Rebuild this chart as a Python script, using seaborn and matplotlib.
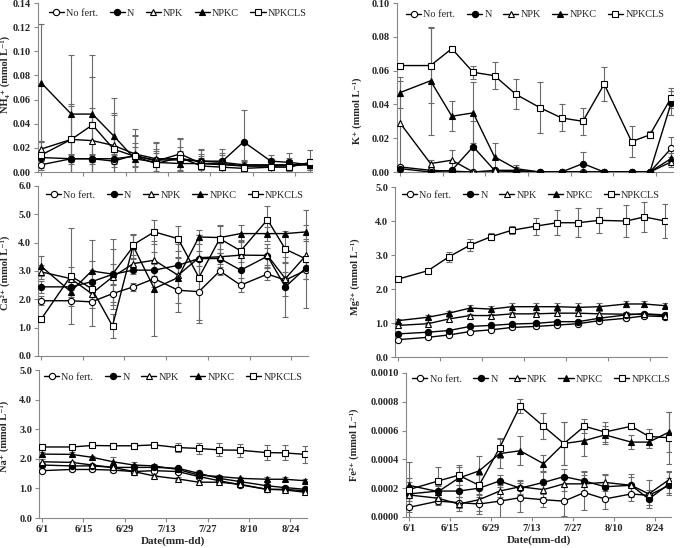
import matplotlib
matplotlib.use('Agg')
import matplotlib.pyplot as plt
from matplotlib.ticker import MultipleLocator, FormatStrFormatter
import seaborn as sns
import pandas as pd

# sampling days counted from 6/1
days = [0, 10, 17, 24, 31, 38, 46, 53, 60, 67, 76, 82, 89]
tick_days = [0, 14, 28, 42, 56, 70, 84]
tick_labels = ['6/1', '6/15', '6/29', '7/13', '7/27', '8/10', '8/24']
treatments = ['No fert.', 'N', 'NPK', 'NPKC', 'NPKCLS']

# NH4+
nh4_nofert = [0.006, 0.011, 0.011, 0.009, 0.014, 0.009, 0.015, 0.007, 0.006, 0.005, 0.005, 0.005, 0.007]
nh4_n = [0.012, 0.011, 0.011, 0.011, 0.013, 0.010, 0.010, 0.009, 0.009, 0.025, 0.009, 0.008, 0.006]
nh4_npk = [0.019, 0.027, 0.026, 0.022, 0.015, 0.011, 0.011, 0.009, 0.008, 0.006, 0.006, 0.006, 0.006]
nh4_npkc = [0.074, 0.048, 0.048, 0.030, 0.011, 0.008, 0.007, 0.007, 0.007, 0.005, 0.005, 0.006, 0.006]
nh4_npkcls = [0.014, 0.027, 0.039, 0.019, 0.013, 0.007, 0.012, 0.005, 0.004, 0.003, 0.004, 0.004, 0.008]
nh4_nofert_sd = [0.003, 0.004, 0.004, 0.005, 0.010, 0.008, 0.013, 0.005, 0.004, 0.003, 0.003, 0.004, 0.004]
nh4_n_sd = [0.003, 0.003, 0.003, 0.004, 0.008, 0.006, 0.006, 0.006, 0.005, 0.026, 0.005, 0.004, 0.003]
nh4_npk_sd = [0.006, 0.029, 0.027, 0.025, 0.016, 0.014, 0.010, 0.009, 0.008, 0.004, 0.004, 0.004, 0.004]
nh4_npkc_sd = [0.049, 0.049, 0.049, 0.031, 0.025, 0.016, 0.010, 0.012, 0.012, 0.004, 0.006, 0.010, 0.004]
nh4_npkcls_sd = [0.012, 0.028, 0.040, 0.030, 0.017, 0.012, 0.015, 0.008, 0.007, 0.004, 0.006, 0.006, 0.010]

# K+
k_nofert = [0.003, 0.001, 0.0005, 0.0, 0.0, 0.0, 0.0, 0.0, 0.0, 0.0, 0.0, 0.0, 0.014]
k_n = [0.002, 0.0, 0.001, 0.015, 0.001, 0.0, 0.0, 0.0, 0.005, 0.0, 0.0, 0.0, 0.041]
k_npk = [0.029, 0.005, 0.007, 0.0, 0.001, 0.001, 0.0, 0.0, 0.0, 0.0, 0.0, 0.0, 0.006]
k_npkc = [0.047, 0.054, 0.033, 0.035, 0.009, 0.002, 0.0, 0.0, 0.0, 0.0, 0.0, 0.0, 0.008]
k_npkcls = [0.063, 0.063, 0.073, 0.059, 0.057, 0.046, 0.038, 0.032, 0.030, 0.052, 0.018, 0.022, 0.044]
k_nofert_sd = [0.001, 0.001, 0.0, 0.0, 0.0, 0.0, 0.0, 0.0, 0.0, 0.0, 0.0, 0.0, 0.007]
k_n_sd = [0.001, 0.0, 0.001, 0.015, 0.001, 0.0, 0.0, 0.0, 0.007, 0.0, 0.0, 0.0, 0.007]
k_npk_sd = [0.025, 0.002, 0.006, 0.0, 0.001, 0.002, 0.0, 0.0, 0.0, 0.0, 0.0, 0.0, 0.003]
k_npkc_sd = [0.009, 0.032, 0.009, 0.018, 0.008, 0.002, 0.0, 0.0, 0.0, 0.0, 0.0, 0.0, 0.003]
k_npkcls_sd = [0.001, 0.022, 0.001, 0.004, 0.008, 0.009, 0.015, 0.008, 0.008, 0.010, 0.009, 0.002, 0.006]

# Ca2+
ca_nofert = [1.95, 1.95, 1.91, 2.20, 2.44, 2.73, 2.32, 2.27, 3.00, 2.50, 2.89, 2.68, 3.03]
ca_n = [2.44, 2.44, 2.62, 2.88, 3.03, 3.03, 3.20, 3.44, 3.44, 3.03, 3.52, 2.44, 3.12]
ca_npk = [2.97, 2.73, 2.20, 2.79, 3.26, 3.38, 2.85, 3.47, 3.50, 3.56, 3.55, 2.73, 3.56]
ca_npkc = [3.17, 2.27, 3.00, 2.89, 3.87, 2.38, 2.77, 4.20, 4.18, 4.32, 4.32, 4.32, 4.38]
ca_npkcls = [1.29, 2.82, 2.38, 1.06, 3.93, 4.38, 4.14, 2.77, 4.14, 3.71, 4.81, 3.77, 3.42]
ca_nofert_sd = [0.15, 0.20, 0.20, 0.30, 0.15, 0.30, 0.45, 1.10, 0.15, 0.25, 0.20, 0.30, 0.30]
ca_n_sd = [0.20, 0.35, 0.40, 0.35, 0.15, 0.20, 0.30, 0.25, 0.20, 0.50, 0.30, 1.05, 0.40]
ca_npk_sd = [0.25, 0.40, 1.15, 1.00, 0.20, 0.30, 0.60, 0.80, 0.50, 0.50, 0.40, 0.60, 0.50]
ca_npkc_sd = [0.35, 0.25, 1.08, 1.24, 0.45, 1.68, 1.20, 0.25, 0.40, 0.30, 0.25, 0.10, 0.25]
ca_npkcls_sd = [0.10, 1.70, 0.30, 0.42, 0.35, 0.42, 0.45, 1.50, 0.50, 0.40, 0.50, 0.50, 1.72]

# Mg2+
mg_nofert = [0.51, 0.58, 0.65, 0.75, 0.80, 0.87, 0.90, 0.94, 0.98, 1.07, 1.14, 1.21, 1.19]
mg_n = [0.68, 0.73, 0.78, 0.90, 0.93, 0.97, 0.99, 1.04, 1.04, 1.14, 1.24, 1.27, 1.24]
mg_npk = [0.93, 0.98, 1.12, 1.22, 1.22, 1.27, 1.27, 1.29, 1.29, 1.27, 1.26, 1.26, 1.22]
mg_npkc = [1.07, 1.17, 1.29, 1.44, 1.41, 1.48, 1.48, 1.48, 1.46, 1.48, 1.56, 1.56, 1.51]
mg_npkcls = [2.29, 2.54, 2.95, 3.29, 3.54, 3.73, 3.85, 3.95, 3.95, 4.02, 4.00, 4.12, 4.00]
mg_nofert_sd = [0.04, 0.04, 0.04, 0.04, 0.04, 0.04, 0.04, 0.04, 0.04, 0.04, 0.05, 0.05, 0.05]
mg_n_sd = [0.03, 0.04, 0.04, 0.04, 0.04, 0.04, 0.04, 0.05, 0.05, 0.06, 0.05, 0.05, 0.05]
mg_npk_sd = [0.05, 0.05, 0.05, 0.06, 0.06, 0.06, 0.06, 0.06, 0.07, 0.07, 0.07, 0.07, 0.07]
mg_npkc_sd = [0.06, 0.06, 0.07, 0.08, 0.08, 0.10, 0.10, 0.12, 0.12, 0.12, 0.08, 0.08, 0.08]
mg_npkcls_sd = [0.05, 0.05, 0.15, 0.18, 0.10, 0.12, 0.25, 0.37, 0.43, 0.36, 0.46, 0.45, 0.50]

# Na+
na_nofert = [1.60, 1.64, 1.64, 1.62, 1.57, 1.60, 1.57, 1.40, 1.26, 1.12, 0.97, 0.97, 0.92]
na_n = [1.79, 1.76, 1.76, 1.71, 1.71, 1.71, 1.68, 1.51, 1.34, 1.23, 1.09, 1.03, 0.97]
na_npk = [1.90, 1.88, 1.79, 1.71, 1.57, 1.42, 1.32, 1.21, 1.21, 1.14, 0.97, 0.95, 0.87]
na_npkc = [2.16, 2.15, 2.05, 1.90, 1.79, 1.76, 1.64, 1.45, 1.40, 1.34, 1.31, 1.31, 1.26]
na_npkcls = [2.40, 2.40, 2.45, 2.44, 2.44, 2.47, 2.38, 2.35, 2.30, 2.29, 2.21, 2.20, 2.15]
na_nofert_sd = [0.04, 0.05, 0.05, 0.05, 0.05, 0.04, 0.06, 0.05, 0.05, 0.05, 0.04, 0.04, 0.04]
na_n_sd = [0.06, 0.06, 0.06, 0.08, 0.07, 0.06, 0.06, 0.06, 0.06, 0.06, 0.06, 0.06, 0.05]
na_npk_sd = [0.08, 0.06, 0.05, 0.06, 0.06, 0.05, 0.05, 0.05, 0.05, 0.05, 0.05, 0.05, 0.05]
na_npkc_sd = [0.06, 0.07, 0.06, 0.15, 0.10, 0.06, 0.07, 0.06, 0.07, 0.06, 0.06, 0.06, 0.05]
na_npkcls_sd = [0.06, 0.06, 0.05, 0.08, 0.10, 0.06, 0.15, 0.20, 0.22, 0.22, 0.25, 0.25, 0.28]

# Fe2+
fe_nofert = [0.000067, 0.00011, 0.00010, 0.00009, 0.00011, 0.000134, 0.00012, 0.00011, 0.00017, 0.000125, 0.00016, 0.00015, 0.00022]
fe_n = [0.00016, 0.00018, 0.00018, 0.00020, 0.00025, 0.00020, 0.00024, 0.00028, 0.00025, 0.00021, 0.00022, 0.000125, 0.00023]
fe_npk = [0.000153, 0.00013, 0.00009, 0.00012, 0.00018, 0.00021, 0.00019, 0.00023, 0.00023, 0.00024, 0.00022, 0.00016, 0.00026]
fe_npkc = [0.00022, 0.000176, 0.00027, 0.00032, 0.00044, 0.00046, 0.00037, 0.00051, 0.00053, 0.00057, 0.00052, 0.00052, 0.00059]
fe_npkcls = [0.00019, 0.00025, 0.00029, 0.00022, 0.00048, 0.00077, 0.00063, 0.00051, 0.00063, 0.00059, 0.00063, 0.00056, 0.00055]
fe_nofert_sd = [0.00007, 0.00003, 0.00004, 0.00005, 0.00012, 0.00010, 0.00005, 0.00010, 0.00012, 0.00007, 0.00005, 0.00004, 0.00005]
fe_n_sd = [0.00005, 0.00004, 0.00004, 0.00004, 0.00004, 0.00005, 0.00008, 0.00005, 0.00007, 0.00008, 0.00008, 0.00004, 0.00008]
fe_npk_sd = [0.00012, 0.00004, 0.00005, 0.00010, 0.00004, 0.00005, 0.00005, 0.00005, 0.00008, 0.00006, 0.00006, 0.00010, 0.00006]
fe_npkc_sd = [0.00016, 0.00004, 0.00008, 0.00010, 0.00010, 0.00010, 0.00006, 0.00015, 0.00011, 0.00006, 0.00005, 0.00004, 0.00014]
fe_npkcls_sd = [0.00005, 0.00010, 0.00007, 0.00007, 0.00007, 0.00005, 0.00009, 0.00015, 0.00005, 0.00007, 0.00002, 0.00005, 0.00018]

# marker, face colour per treatment
styles = {'No fert.': ('o', 'white'), 'N': ('o', 'black'), 'NPK': ('^', 'white'),
          'NPKC': ('^', 'black'), 'NPKCLS': ('s', 'white')}

sns.set_style('ticks')
plt.rcParams['font.family'] = ['Liberation Serif', 'DejaVu Serif']
plt.rcParams['font.weight'] = 'bold'
plt.rcParams['axes.labelweight'] = 'bold'

fig = plt.figure(figsize=(6.81, 5.48), dpi=100)


# Draw one panel: error bars, lines with markers, legend and axes styling
def draw_panel(rect, values, errors, ymax, ystep, fmt, ylabel, label_xy, legend_xy, bottom=False):
    ax = fig.add_axes(rect)
    for vals, errs in zip(values, errors):
        ax.errorbar(days, vals, yerr=errs, fmt='none', ecolor='#6a6a6a', elinewidth=0.8,
                    capsize=2, capthick=0.8, zorder=1)
    for name, vals in zip(treatments, values):
        marker, face = styles[name]
        df = pd.DataFrame({'day': days, 'value': vals})
        sns.lineplot(data=df, x='day', y='value', ax=ax, color='black', linewidth=1.0,
                     marker=marker, markersize=4.5, markerfacecolor=face,
                     markeredgecolor='black', markeredgewidth=0.8, label=name, zorder=3)
    ax.set_xlim(-1, 89.6)
    ax.set_ylim(0, ymax)
    ax.yaxis.set_major_locator(MultipleLocator(ystep))
    ax.yaxis.set_major_formatter(FormatStrFormatter(fmt))
    ax.set_xticks(tick_days)
    if bottom:
        ax.set_xticklabels(tick_labels)
        ax.set_xlabel('Date(mm-dd)', fontsize=8, labelpad=2)
    else:
        ax.set_xticklabels([])
        ax.set_xlabel('')
    ax.set_ylabel(ylabel, fontsize=7.5)
    ax.yaxis.set_label_coords(*label_xy)
    ax.tick_params(labelsize=7.5, length=3, width=0.8, color='#888888', pad=2)
    sns.despine(ax=ax)
    for side in ['left', 'bottom']:
        ax.spines[side].set_color('#888888')
        ax.spines[side].set_linewidth(0.8)
    handles, labels = ax.get_legend_handles_labels()
    keep = [(h, l) for h, l in zip(handles, labels) if l in treatments]
    ax.legend([h for h, _ in keep], [l for _, l in keep], loc='center', bbox_to_anchor=legend_xy,
              ncol=5, frameon=False, prop={'weight': 'normal', 'size': 7.4},
              handlelength=1.5, handletextpad=0.2, columnspacing=1.1, borderpad=0)
    return ax


draw_panel([0.0558, 0.6861, 0.4023, 0.3084],
           [nh4_nofert, nh4_n, nh4_npk, nh4_npkc, nh4_npkcls],
           [nh4_nofert_sd, nh4_n_sd, nh4_npk_sd, nh4_npkc_sd, nh4_npkcls_sd],
           0.14, 0.02, '%.2f', 'NH\u2084\u207a (mmol L\u207b\u00b9)', (-0.104, 0.58), (0.51, 0.94))

draw_panel([0.5830, 0.6861, 0.4053, 0.3084],
           [k_nofert, k_n, k_npk, k_npkc, k_npkcls],
           [k_nofert_sd, k_n_sd, k_npk_sd, k_npkc_sd, k_npkcls_sd],
           0.10, 0.02, '%.2f', 'K\u207a (mmol L\u207b\u00b9)', (-0.127, 0.36), (0.50, 0.93))

draw_panel([0.0558, 0.3504, 0.3965, 0.3102],
           [ca_nofert, ca_n, ca_npk, ca_npkc, ca_npkcls],
           [ca_nofert_sd, ca_n_sd, ca_npk_sd, ca_npkc_sd, ca_npkcls_sd],
           6.0, 1.0, '%.1f', 'Ca\u00b2\u207a (mmol L\u207b\u00b9)', (-0.105, 0.49), (0.507, 0.947))

draw_panel([0.5800, 0.3485, 0.3994, 0.3102],
           [mg_nofert, mg_n, mg_npk, mg_npkc, mg_npkcls],
           [mg_nofert_sd, mg_n_sd, mg_npk_sd, mg_npkc_sd, mg_npkcls_sd],
           5.0, 1.0, '%.1f', 'Mg\u00b2\u207a (mmol L\u207b\u00b9)', (-0.129, 0.47), (0.50, 0.953))

draw_panel([0.0573, 0.0547, 0.3935, 0.2701],
           [na_nofert, na_n, na_npk, na_npkc, na_npkcls],
           [na_nofert_sd, na_n_sd, na_npk_sd, na_npkc_sd, na_npkcls_sd],
           5.0, 1.0, '%.1f', 'Na\u207a (mmol L\u207b\u00b9)', (-0.113, 0.55), (0.50, 0.953), bottom=True)

draw_panel([0.5962, 0.0566, 0.3891, 0.2628],
           [fe_nofert, fe_n, fe_npk, fe_npkc, fe_npkcls],
           [fe_nofert_sd, fe_n_sd, fe_npk_sd, fe_npkc_sd, fe_npkcls_sd],
           0.0010, 0.0002, '%.4f', 'Fe\u00b2\u207a (mmol L\u207b\u00b9)', (-0.177, 0.5), (0.51, 0.958), bottom=True)

fig.savefig('out.png', dpi=100)
